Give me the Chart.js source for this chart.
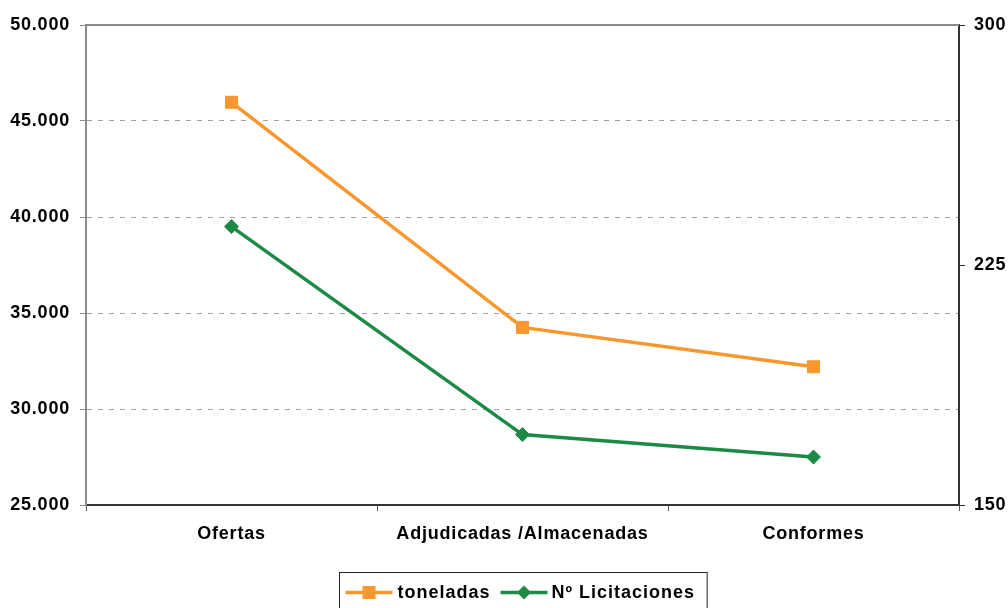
<!DOCTYPE html>
<html>
<head>
<meta charset="utf-8">
<script src="https://cdn.jsdelivr.net/npm/chart.js@4/dist/chart.umd.min.js"></script>
<style>
  html, body { margin: 0; padding: 0; background: #ffffff; }
  #wrap { width: 1008px; height: 608px; position: relative; }
</style>
</head>
<body>
<div id="wrap"><canvas id="c" width="1008" height="608"></canvas></div>
<script>
const categories = ['Ofertas', 'Adjudicadas /Almacenadas', 'Conformes'];
const toneladas = [45975, 34250, 32200];
const licitaciones = [237, 172, 165];
const seriesNames = ['toneladas', 'Nº Licitaciones'];
const leftTicks = [25000, 30000, 35000, 40000, 45000, 50000];
const rightTicks = [150, 225, 300];

const ORANGE = '#F7972E';
const GREEN = '#1C8A45';
const FONT = { family: 'Arial, "Liberation Sans", sans-serif', size: 18, weight: 'bold' };

function fmtThousands(v) {
  return String(Math.round(v)).replace(/\B(?=(\d{3})+(?!\d))/g, '.');
}

const framePlugin = {
  id: 'frame',
  beforeDraw(chart) {
    chart.ctx.letterSpacing = '0.8px';
  },
  afterDatasetsDraw(chart) {
    const { ctx, chartArea } = chart;
    ctx.save();
    ctx.strokeStyle = '#8a8a8a';
    ctx.lineWidth = 2;
    ctx.beginPath();
    ctx.moveTo(chartArea.left, chartArea.top);
    ctx.lineTo(chartArea.right, chartArea.top);
    ctx.stroke();
    ctx.restore();
  },
  afterDraw(chart) {
    const { ctx, chartArea } = chart;
    ctx.save();
    ctx.letterSpacing = '1px';
    ctx.font = 'bold 18px Arial, "Liberation Sans", sans-serif';
    const ds = chart.data.datasets;
    const lineLen = 47;
    const widths = ds.map(d => ctx.measureText(d.label).width);
    const total = 6 + lineLen + 5 + widths[0] + 10 + lineLen + 4 + widths[1] + 12;
    const cx = (chartArea.left + chartArea.right) / 2;
    const left = Math.round(cx - total / 2) + 0.5;
    const top = chart.height - 36 + 0.5;
    ctx.strokeStyle = '#222';
    ctx.lineWidth = 1;
    ctx.strokeRect(left, top, total, 50);
    const cy = top + 20;
    let x = left + 6;
    ds.forEach((d, i) => {
      ctx.strokeStyle = d.borderColor;
      ctx.lineWidth = 3.5;
      ctx.beginPath();
      ctx.moveTo(x, cy);
      ctx.lineTo(x + lineLen, cy);
      ctx.stroke();
      ctx.fillStyle = d.borderColor;
      const mx = x + lineLen / 2;
      if (d.pointStyle === 'rect') {
        ctx.fillRect(mx - 6.5, cy - 6.5, 13, 13);
      } else {
        ctx.beginPath();
        ctx.moveTo(mx, cy - 7);
        ctx.lineTo(mx + 7, cy);
        ctx.lineTo(mx, cy + 7);
        ctx.lineTo(mx - 7, cy);
        ctx.closePath();
        ctx.fill();
      }
      x += lineLen + (i === 0 ? 5 : 4);
      ctx.fillStyle = '#000';
      ctx.textBaseline = 'middle';
      ctx.textAlign = 'left';
      ctx.fillText(d.label, x, cy + 1);
      x += widths[i] + 10;
    });
    ctx.restore();
  }
};

new Chart(document.getElementById('c'), {
  type: 'line',
  data: {
    labels: categories,
    datasets: [
      {
        label: seriesNames[0],
        data: toneladas,
        yAxisID: 'y',
        borderColor: ORANGE,
        backgroundColor: ORANGE,
        borderWidth: 3.5,
        pointStyle: 'rect',
        pointRadius: 8.5,
        pointBorderWidth: 1,
        pointHoverRadius: 8.5,
        tension: 0,
        fill: false
      },
      {
        label: seriesNames[1],
        data: licitaciones,
        yAxisID: 'y2',
        borderColor: GREEN,
        backgroundColor: GREEN,
        borderWidth: 3.5,
        pointStyle: 'rectRot',
        pointRadius: 7,
        pointBorderWidth: 1,
        pointHoverRadius: 7,
        tension: 0,
        fill: false
      }
    ]
  },
  options: {
    responsive: false,
    animation: false,
    devicePixelRatio: 1,
    layout: { padding: { top: 25, left: 0, right: 0, bottom: 0 } },
    plugins: {
      legend: { display: false },
      tooltip: { enabled: false }
    },
    scales: {
      x: {
        offset: true,
        grid: { display: true, drawOnChartArea: false, offset: true, tickLength: 6, tickColor: '#555', lineWidth: 1 },
        border: { display: true, color: '#333', width: 2 },
        ticks: { color: '#000', font: FONT, padding: 12, maxRotation: 0, autoSkip: false },
        afterFit(s) { s.height = 103; }
      },
      y: {
        position: 'left',
        min: leftTicks[0],
        max: leftTicks[leftTicks.length - 1],
        afterBuildTicks(s) { s.ticks = leftTicks.map(v => ({ value: v })); },
        grid: {
          color: c => (c.tick && (c.tick.value === leftTicks[0] || c.tick.value === leftTicks[leftTicks.length - 1])) ? 'rgba(0,0,0,0)' : '#a0a0a0',
          tickColor: '#8a8a8a',
          tickLength: 6,
          lineWidth: 1
        },
        border: { display: true, color: '#8a8a8a', width: 2, dash: [5, 6] },
        ticks: { color: '#000', font: FONT, padding: 10, callback: v => fmtThousands(v) },
        afterFit(s) { s.width = 86; }
      },
      y2: {
        position: 'right',
        min: rightTicks[0],
        max: rightTicks[rightTicks.length - 1],
        afterBuildTicks(s) { s.ticks = rightTicks.map(v => ({ value: v })); },
        grid: { drawOnChartArea: false, tickColor: '#333', tickLength: 6, lineWidth: 1 },
        border: { display: true, color: '#333', width: 2 },
        ticks: { color: '#000', font: FONT, padding: 9, callback: v => String(v) },
        afterFit(s) { s.width = 49; }
      }
    }
  },
  plugins: [framePlugin]
});
</script>
</body>
</html>
